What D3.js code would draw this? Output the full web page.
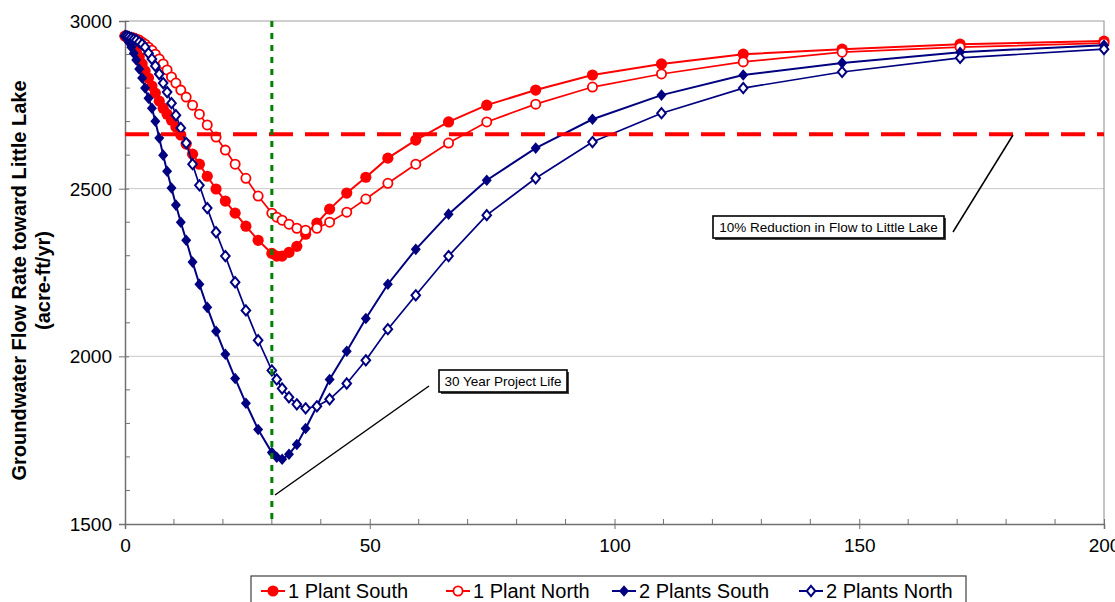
<!DOCTYPE html>
<html>
<head>
<meta charset="utf-8">
<script src="https://cdn.jsdelivr.net/npm/d3@7/dist/d3.min.js"></script>
<style>
  html, body { margin: 0; padding: 0; background: #fff; }
  svg { display: block; font-family: "Liberation Sans", Arial, sans-serif; }
</style>
</head>
<body>
<svg id="chart" width="1115" height="602"></svg>
<script>
// ---- data ----
const years = [0, 0.4, 0.8, 1.3, 1.8, 2.3, 2.9, 3.5, 4.1, 4.8, 5.5, 6.2, 7.0, 7.8, 8.6, 9.5, 10.4, 11.4, 12.5, 13.8,
  15.2, 16.8, 18.6, 20.5, 22.5, 24.7, 27.2, 30.0,
  31.0, 32.1, 33.5, 35.1, 36.9, 39.2, 41.8, 45.3, 49.2, 53.7, 59.4, 66.1, 73.9, 83.9, 95.5, 109.6, 126.3, 146.5, 170.6, 200];

const plant1South = [2955, 2952, 2946, 2937, 2925, 2910, 2893, 2872, 2851, 2830, 2806, 2785, 2761, 2740, 2722, 2704, 2684, 2660, 2633, 2603,
  2573, 2537, 2499, 2463, 2427, 2388, 2346, 2307,
  2299, 2299, 2310, 2328, 2364, 2397, 2439, 2487, 2534, 2591, 2645, 2699, 2749, 2794, 2839, 2872, 2901, 2916, 2931, 2940];

const plant1North = [2955, 2955, 2952, 2951, 2949, 2946, 2943, 2937, 2931, 2922, 2913, 2901, 2887, 2872, 2854, 2833, 2815, 2794, 2773, 2749,
  2722, 2690, 2654, 2615, 2573, 2531, 2478, 2427,
  2415, 2406, 2394, 2382, 2376, 2382, 2400, 2430, 2469, 2516, 2573, 2636, 2699, 2752, 2803, 2842, 2878, 2907, 2922, 2934];

const plants2South = [2955, 2949, 2937, 2922, 2904, 2884, 2857, 2830, 2800, 2770, 2740, 2701, 2651, 2600, 2552, 2502, 2451, 2400, 2346, 2281,
  2215, 2146, 2075, 2006, 1934, 1860, 1782, 1713,
  1699, 1693, 1708, 1737, 1785, 1851, 1931, 2015, 2113, 2215, 2319, 2424, 2525, 2621, 2707, 2779, 2839, 2875, 2907, 2928];

const plants2North = [2955, 2954, 2952, 2949, 2946, 2943, 2937, 2931, 2922, 2904, 2887, 2866, 2842, 2815, 2788, 2755, 2719, 2681, 2636, 2573,
  2510, 2442, 2370, 2299, 2221, 2137, 2048, 1958,
  1931, 1904, 1878, 1857, 1845, 1851, 1872, 1919, 1988, 2081, 2182, 2299, 2421, 2531, 2639, 2725, 2800, 2848, 2890, 2916];

const seriesNames = ["1 Plant South", "1 Plant North", "2 Plants South", "2 Plants North"];
const xTicks = [0, 50, 100, 150, 200];
const yTicks = [1500, 2000, 2500, 3000];
const gridValues = [2000, 2500];
const thresholdFlow = 2662;     // 10% reduction line
const projectLifeYears = 30;    // 30 year project life
const yAxisTitle = ["Groundwater Flow Rate toward Little Lake", "(acre-ft/yr)"];
const noteThreshold = "10% Reduction in Flow to Little Lake";
const noteProject = "30 Year Project Life";

// ---- layout ----
const svg = d3.select("#chart");
const L = 125, R = 1104, T = 21, B = 524;
const x = d3.scaleLinear().domain([0, 200]).range([L, R]);
const y = d3.scaleLinear().domain([1500, 3000]).range([B, T]);

const RED = "#ff0000", NAVY = "#000080", GREEN = "#008000";

// gridlines
svg.append("g").selectAll("line").data(gridValues).join("line")
  .attr("x1", L).attr("x2", R).attr("y1", d => y(d)).attr("y2", d => y(d))
  .attr("stroke", "#c8c8c8").attr("stroke-width", 1);

// plot frame (top + right)
svg.append("path")
  .attr("d", `M${L},${y(3000)}H${x(200)}V${y(1500)}`)
  .attr("fill", "none").attr("stroke", "#a0a0a0").attr("stroke-width", 1.2);

// axes
const yAxisMajor = d3.axisLeft(y).tickValues(yTicks).tickSize(6).tickFormat(d3.format("d"));
const gy = svg.append("g").attr("transform", `translate(${L},0)`).call(yAxisMajor);
gy.selectAll("text").attr("font-size", 19).attr("fill", "#000").attr("x", -13).attr("dy", "0.35em");
gy.select(".domain").attr("stroke", "#707070").attr("stroke-width", 1.5);
gy.selectAll(".tick line").attr("stroke", "#707070").attr("x2", -6).attr("x1", 4);

const yMinor = d3.range(1600, 3000, 100).filter(v => v % 500 !== 0);
svg.append("g").selectAll("line").data(yMinor).join("line")
  .attr("x1", L).attr("x2", L + 5).attr("y1", d => y(d)).attr("y2", d => y(d))
  .attr("stroke", "#707070").attr("stroke-width", 1);

const xAxisMajor = d3.axisBottom(x).tickValues(xTicks).tickSize(5).tickFormat(d3.format("d"));
const gx = svg.append("g").attr("transform", `translate(0,${B})`).call(xAxisMajor);
gx.selectAll("text").attr("font-size", 19).attr("fill", "#000").attr("y", 15).attr("dy", "0.71em");
gx.select(".domain").attr("stroke", "#707070").attr("stroke-width", 1.5);
gx.selectAll(".tick line").attr("stroke", "#707070").attr("y1", -5).attr("y2", 5);

const xMinor = d3.range(10, 200, 10).filter(v => v % 50 !== 0);
svg.append("g").selectAll("line").data(xMinor).join("line")
  .attr("x1", d => x(d)).attr("x2", d => x(d)).attr("y1", B).attr("y2", B - 5)
  .attr("stroke", "#707070").attr("stroke-width", 1);

// y axis title
const title = svg.append("g").attr("transform", `translate(0,${(T + B) / 2 + 8}) rotate(-90)`);
title.append("text").attr("x", 0).attr("y", 26).attr("text-anchor", "middle")
  .attr("font-size", 20).attr("font-weight", "bold").text(yAxisTitle[0]);
title.append("text").attr("x", 0).attr("y", 50).attr("text-anchor", "middle")
  .attr("font-size", 20).attr("font-weight", "bold").text(yAxisTitle[1]);

// series
const series = [
  { name: seriesNames[0], values: plant1South, color: RED, marker: "circle", filled: true, width: 2 },
  { name: seriesNames[1], values: plant1North, color: RED, marker: "circle", filled: false, width: 1.7 },
  { name: seriesNames[2], values: plants2South, color: NAVY, marker: "diamond", filled: true, width: 2 },
  { name: seriesNames[3], values: plants2North, color: NAVY, marker: "diamond", filled: false, width: 1.7 }
];

const line = d3.line().x(d => x(d[0])).y(d => y(d[1]));

function diamondPath(cx, cy, hw, hh) {
  return `M${cx},${cy - hh}L${cx + hw},${cy}L${cx},${cy + hh}L${cx - hw},${cy}Z`;
}

function drawMarker(g, cx, cy, s) {
  if (s.marker === "circle") {
    if (s.filled) {
      g.append("circle").attr("cx", cx).attr("cy", cy).attr("r", 5.6).attr("fill", s.color);
    } else {
      g.append("circle").attr("cx", cx).attr("cy", cy).attr("r", 4.6)
        .attr("fill", "#fff").attr("stroke", s.color).attr("stroke-width", 1.8);
    }
  } else {
    if (s.filled) {
      g.append("path").attr("d", diamondPath(cx, cy, 5, 5.8)).attr("fill", s.color);
    } else {
      g.append("path").attr("d", diamondPath(cx, cy, 4.3, 5.1))
        .attr("fill", "#fff").attr("stroke", s.color).attr("stroke-width", 2);
    }
  }
}

series.forEach(s => {
  const pts = years.map((t, i) => [t, s.values[i]]);
  const g = svg.append("g");
  g.append("path").attr("d", line(pts)).attr("fill", "none")
    .attr("stroke", s.color).attr("stroke-width", s.width);
  pts.forEach(p => drawMarker(g, x(p[0]), y(p[1]), s));
});

// 10% reduction dashed line
svg.append("line")
  .attr("x1", x(0)).attr("x2", x(200)).attr("y1", y(thresholdFlow)).attr("y2", y(thresholdFlow))
  .attr("stroke", RED).attr("stroke-width", 4).attr("stroke-dasharray", "24,12");

// 30 year project life dotted line
svg.append("line")
  .attr("x1", x(projectLifeYears)).attr("x2", x(projectLifeYears)).attr("y1", y(3000)).attr("y2", y(1500))
  .attr("stroke", GREEN).attr("stroke-width", 3).attr("stroke-dasharray", "6,6");

// annotations
function noteBox(bx, by, bw, bh, txt) {
  svg.append("rect").attr("x", bx + 2).attr("y", by + 2).attr("width", bw).attr("height", bh).attr("fill", "#444");
  svg.append("rect").attr("x", bx).attr("y", by).attr("width", bw).attr("height", bh)
    .attr("fill", "#fff").attr("stroke", "#000").attr("stroke-width", 1.6);
  svg.append("text").attr("x", bx + bw / 2).attr("y", by + bh / 2 + 5).attr("text-anchor", "middle")
    .attr("font-size", 13.5).attr("fill", "#000").text(txt);
}
svg.append("line").attr("x1", 953).attr("y1", 232).attr("x2", 1013).attr("y2", 135)
  .attr("stroke", "#000").attr("stroke-width", 1.5);
noteBox(713, 216, 231, 22, noteThreshold);

svg.append("line").attr("x1", 275).attr("y1", 495).attr("x2", 429).attr("y2", 386)
  .attr("stroke", "#000").attr("stroke-width", 1.5);
noteBox(439, 370, 128, 22, noteProject);

// legend
const lg = svg.append("g");
lg.append("rect").attr("x", 251).attr("y", 576).attr("width", 715).attr("height", 40)
  .attr("fill", "#fff").attr("stroke", "#404040").attr("stroke-width", 1.2);
const legendX = [261, 446, 612, 799];
series.forEach((s, i) => {
  const lx = legendX[i], ly = 591;
  lg.append("line").attr("x1", lx).attr("x2", lx + 24).attr("y1", ly).attr("y2", ly)
    .attr("stroke", s.color).attr("stroke-width", 2);
  drawMarker(lg, lx + 12, ly, s);
  lg.append("text").attr("x", lx + 27).attr("y", ly + 7).attr("font-size", 20).attr("fill", "#000").text(s.name);
});
</script>
</body>
</html>
